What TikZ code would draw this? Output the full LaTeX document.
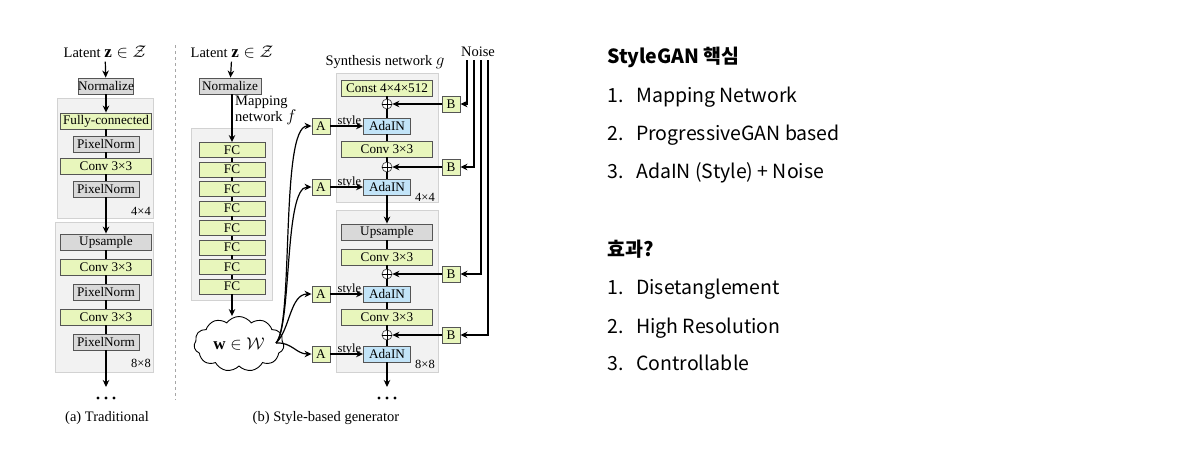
\documentclass[tikz,border=0pt]{standalone}
\usepackage{fix-cm}
\usepackage{fontspec}
\setmainfont{Liberation Serif}
\newfontfamily\kr{Noto Sans CJK KR}
\usetikzlibrary{arrows.meta,shapes.symbols}
\definecolor{boxgreen}{HTML}{E8F6BC}
\definecolor{boxgray}{HTML}{D9D9D9}
\definecolor{boxblue}{HTML}{C2E4F8}
\definecolor{panel}{HTML}{F2F2F2}
\definecolor{panelline}{HTML}{D2D2D2}
\definecolor{edge}{HTML}{555555}
\newcommand{\bigmath}[1]{{\fontsize{17}{17}\selectfont$#1$}}
\tikzset{
  blk/.style={draw=edge, line width=0.9pt, inner sep=0pt, minimum height=16pt,
    font=\fontsize{13.2}{13}\selectfont},
  greenbox/.style={blk, fill=boxgreen},
  graybox/.style={blk, fill=boxgray},
  bluebox/.style={blk, fill=boxblue},
  wide/.style={minimum width=91pt},
  mid/.style={minimum width=66pt},
  small/.style={minimum width=18pt},
  panelbox/.style={draw=panelline, fill=panel, line width=0.8pt},
  arr/.style={-{Stealth[length=7pt,width=6.5pt]}, line width=1.2pt},
  ln/.style={line width=1.2pt},
  sum/.style={circle, draw=edge, fill=white, line width=0.8pt, inner sep=0pt, minimum size=10pt},
  lbl/.style={font=\fontsize{14.5}{16}\selectfont},
  sm/.style={font=\fontsize{12.5}{12.5}\selectfont},
  krtext/.style={font=\kr\fontsize{19.5}{19.5}\selectfont, anchor=base west, inner sep=0pt},
  krhead/.style={font=\kr\bfseries\fontsize{19.5}{19.5}\selectfont, anchor=base west, inner sep=0pt},
}
\begin{document}
\begin{tikzpicture}[x=1pt,y=-1pt]
\useasboundingbox (0,0) rectangle (1200,467);

% ---------- (a) traditional generator ----------
\draw[panelbox] (57,98) rectangle (153,218);
\draw[panelbox] (55,222) rectangle (153,372);
\node[lbl] (za) at (105,52) {Latent \bigmath{\mathbf{z}\in\mathcal{Z}}};
\node[graybox, minimum width=55pt] (na) at (106,86) {Normalize};
\node[greenbox, wide] (fca) at (106,121) {Fully-connected};
\node[graybox, mid] (pa1) at (106,144) {PixelNorm};
\node[greenbox, wide] (ca1) at (106,166) {Conv 3×3};
\node[graybox, mid] (pa2) at (106,189) {PixelNorm};
\node[sm] (ra1) at (141,211) {4×4};
\node[graybox, wide] (ua) at (106,242) {Upsample};
\node[greenbox, wide] (ca2) at (106,267) {Conv 3×3};
\node[graybox, mid] (pa3) at (106,292) {PixelNorm};
\node[greenbox, wide] (ca3) at (106,317) {Conv 3×3};
\node[graybox, mid] (pa4) at (106,342) {PixelNorm};
\node[sm] (ra2) at (141,363) {8×8};
\coordinate (enda) at (106,387);
\foreach \d in {-8,0,8} \fill (106+\d,398) circle (1.6);
\node[lbl] (capa) at (107,418) {(a) Traditional};

\draw[arr] (za) -- (na);
\draw[arr] (na) -- (fca);
\draw[ln] (fca) -- (pa1);
\draw[ln] (pa1) -- (ca1);
\draw[ln] (ca1) -- (pa2);
\draw[arr] (pa2) -- (ua);
\draw[ln] (ua) -- (ca2);
\draw[ln] (ca2) -- (pa3);
\draw[ln] (pa3) -- (ca3);
\draw[ln] (ca3) -- (pa4);
\draw[arr] (pa4) -- (enda);

% divider
\draw[gray!70, dashed, line width=0.8pt] (175,45) -- (175,400);

% ---------- (b) style-based generator: mapping network ----------
\draw[panelbox] (191,128) rectangle (272,300);
\node[lbl] (zb) at (232,52) {Latent \bigmath{\mathbf{z}\in\mathcal{Z}}};
\node[graybox, minimum width=62pt] (nb) at (230,86) {Normalize};
\node[lbl, align=left, anchor=north west, inner sep=0pt] (mapl) at (235,96) {Mapping\\network \bigmath{f}};
\foreach \i/\y in {1/150,2/169.5,3/189,4/208.5,5/228,6/247.5,7/267,8/286.5}
  \node[greenbox, mid, minimum height=15pt] (fc\i) at (232,\y) {FC};
\draw[arr] (zb) -- (nb);
\draw[arr] (nb.south -| fc1.north) -- (fc1);
\foreach \i/\j in {1/2,2/3,3/4,4/5,5/6,6/7,7/8}
  \draw[ln] (fc\i) -- (fc\j);
\node[cloud, cloud puffs=11, cloud puff arc=110, aspect=1.7, draw, line width=0.9pt,
  fill=white, minimum width=90pt, minimum height=55pt, inner sep=0pt,
  font=\fontsize{17}{17}\selectfont] (w) at (239,344) {$\mathbf{w}\in\mathcal{W}$};
\draw[arr] (fc8) -- (w.north -| fc8);

% ---------- synthesis network ----------
\draw[panelbox] (336,73) rectangle (438,202);
\draw[panelbox] (336,210) rectangle (438,372);
\node[lbl] (synl) at (385,62) {Synthesis network \bigmath{g}};
\node[lbl] (noisel) at (478,52) {Noise};

\node[greenbox, wide] (cst) at (387,88) {Const 4×4×512};
\node[sum] (s1) at (387,104) {};
\node[bluebox, minimum width=47pt] (ad1) at (387,126) {AdaIN};
\node[greenbox, wide] (cb1) at (387,149) {Conv 3×3};
\node[sum] (s2) at (387,167) {};
\node[bluebox, minimum width=47pt] (ad2) at (387,187) {AdaIN};
\node[sm] (rb1) at (425,197) {4×4};
\node[graybox, wide] (ub) at (387,232) {Upsample};
\node[greenbox, wide] (cb2) at (387,257) {Conv 3×3};
\node[sum] (s3) at (387,274) {};
\node[bluebox, minimum width=47pt] (ad3) at (387,294) {AdaIN};
\node[greenbox, wide] (cb3) at (387,317) {Conv 3×3};
\node[sum] (s4) at (387,335) {};
\node[bluebox, minimum width=47pt] (ad4) at (387,354) {AdaIN};
\node[sm] (rb2) at (425,364) {8×8};
\coordinate (endb) at (387,387);
\foreach \d in {-8,0,8} \fill (387+\d,398) circle (1.6);
\node[lbl] (capb) at (326,418) {(b) Style-based generator};

\foreach \s in {1,2,3,4}
  \draw[line width=0.6pt] (s\s.north) -- (s\s.south) (s\s.west) -- (s\s.east);

\draw[ln] (cst) -- (s1);
\draw[ln] (s1) -- (ad1);
\draw[ln] (ad1) -- (cb1);
\draw[ln] (cb1) -- (s2);
\draw[ln] (s2) -- (ad2);
\draw[arr] (ad2) -- (ub);
\draw[ln] (ub) -- (cb2);
\draw[ln] (cb2) -- (s3);
\draw[ln] (s3) -- (ad3);
\draw[ln] (ad3) -- (cb3);
\draw[ln] (cb3) -- (s4);
\draw[ln] (s4) -- (ad4);
\draw[arr] (ad4) -- (endb);

% style inputs
\foreach \i/\y in {1/126,2/187,3/294,4/354} {
  \node[greenbox, small] (A\i) at (321,\y) {A};
  \draw[arr] (A\i) -- (ad\i);
  \node[sm, anchor=south west, inner sep=0pt] (st\i) at ([xshift=7pt,yshift=-1.5pt]A\i.east) {style};
}
\coordinate (wout) at (276,343);
\draw[arr] (wout) .. controls (294,325) and (280,126) .. (A1.west);
\draw[arr] (wout) .. controls (292,325) and (284,187) .. (A2.west);
\draw[arr] (wout) .. controls (290,330) and (290,294) .. (A3.west);
\draw[arr] (wout) .. controls (292,342) and (296,354) .. (A4.west);

% noise inputs
\foreach \i/\y/\x in {1/104/467,2/167/474,3/274/481,4/335/488} {
  \node[greenbox, small] (B\i) at (451,\y) {B};
  \coordinate (nz\i) at (\x,60);
  \draw[arr] (nz\i) |- (B\i);
  \draw[arr] (B\i) -- (s\i);
}

% ---------- notes ----------
\node[krhead] (h1) at (607,63) {StyleGAN 핵심};
\node[krtext] (n11) at (607,102) {1.};
\node[krtext] (t11) at (636,102) {Mapping Network};
\node[krtext] (n12) at (607,140) {2.};
\node[krtext] (t12) at (636,140) {ProgressiveGAN based};
\node[krtext] (n13) at (607,178) {3.};
\node[krtext] (t13) at (636,178) {AdaIN (Style) + Noise};
\node[krhead] (h2) at (607,256) {효과?};
\node[krtext] (n21) at (607,294) {1.};
\node[krtext] (t21) at (636,294) {Disetanglement};
\node[krtext] (n22) at (607,333) {2.};
\node[krtext] (t22) at (636,333) {High Resolution};
\node[krtext] (n23) at (607,370) {3.};
\node[krtext] (t23) at (636,370) {Controllable};
\end{tikzpicture}
\end{document}
